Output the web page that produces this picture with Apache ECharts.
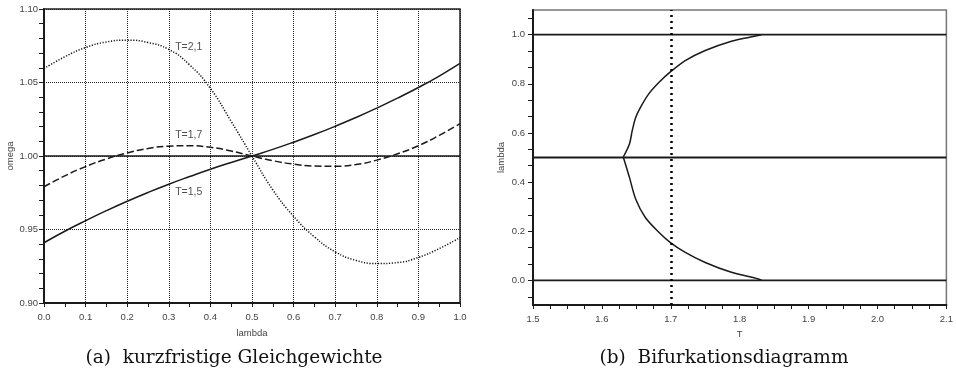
<!DOCTYPE html>
<html>
<head>
<meta charset="utf-8">
<script src="https://cdn.jsdelivr.net/npm/echarts@6/dist/echarts.min.js"></script>
<style>
  html, body { margin: 0; padding: 0; background: #fff; }
  #chart { width: 956px; height: 373px; }
</style>
</head>
<body>
<div id="chart"></div>
<script>
// (a) kurzfristige Gleichgewichte
const lambdas = [0, 0.05, 0.1, 0.15, 0.2, 0.25, 0.3, 0.35, 0.4, 0.45, 0.5,
  0.55, 0.6, 0.65, 0.7, 0.75, 0.8, 0.85, 0.9, 0.95, 1.0]
const omegaT15 = [0.941, 0.9488, 0.956, 0.9628, 0.9692, 0.9752, 0.9808, 0.986, 0.991, 0.9956, 1.0,
  1.0045, 1.0094, 1.0146, 1.0202, 1.0262, 1.0326, 1.0394, 1.0466, 1.0544, 1.063]
const omegaT17 = [0.979, 0.9865, 0.9928, 0.998, 1.0021, 1.0051, 1.0067, 1.007, 1.0059, 1.0034, 1.0,
  0.9968, 0.9945, 0.9932, 0.993, 0.9942, 0.9972, 1.0015, 1.007, 1.014, 1.022]
const omegaT21 = [1.0595, 1.0675, 1.0738, 1.0776, 1.0788, 1.0772, 1.0725, 1.062, 1.046, 1.0235, 1.0,
  0.977, 0.959, 0.945, 0.9348, 0.929, 0.9268, 0.9275, 0.931, 0.937, 0.9445]
const curveLabels = [
  { name: 'T=2,1', at: [0.348, 1.0741] },
  { name: 'T=1,7', at: [0.348, 1.0141] },
  { name: 'T=1,5', at: [0.348, 0.9751] },
]

// (b) Bifurkationsdiagramm
const upperT = [1.631, 1.640, 1.644, 1.649, 1.656, 1.668, 1.683, 1.699, 1.721, 1.750, 1.788, 1.827, 1.832]
const upperLambda = [0.502, 0.555, 0.609, 0.663, 0.704, 0.759, 0.806, 0.847, 0.894, 0.935, 0.973, 0.996, 1.0]
const lowerT = [1.631, 1.640, 1.649, 1.663, 1.683, 1.699, 1.721, 1.750, 1.788, 1.827, 1.832]
const lowerLambda = [0.502, 0.419, 0.331, 0.256, 0.195, 0.155, 0.114, 0.073, 0.033, 0.006, 0.0]
const flatLevels = [1.0, 0.5, 0.0]
const markT = 1.7
const rightYLabels = [0, 0.2, 0.4, 0.6, 0.8, 1.0]

const zip = (xs, ys) => xs.map((x, i) => [x, ys[i]])

// minor ticks of the right y axis: thirds of 0.2, one extra step beyond each end
const rightYTicks = []
for (let k = -1; k <= 16; k++) rightYTicks.push(+(k * 0.2 / 3).toFixed(4))

var chart = echarts.init(document.getElementById('chart'))

var labelFont = { color: '#444', fontSize: 9.5, fontFamily: 'Liberation Sans, Arial, sans-serif' }
var dark = '#1a1a1a'
var captionFont = '18.5px "DejaVu Serif", serif'

var option = {
  animation: false,
  grid: [
    { left: 44, top: 9, width: 416, height: 294, show: true, borderColor: '#222', borderWidth: 1.5, backgroundColor: 'transparent' },
    { left: 533, top: 10, width: 417, height: 295, show: true, borderColor: '#777', borderWidth: 1.5, backgroundColor: 'transparent' },
  ],
  xAxis: [
    {
      gridIndex: 0, type: 'value', min: 0, max: 1, interval: 0.1,
      name: 'lambda', nameLocation: 'middle', nameGap: 25,
      nameTextStyle: labelFont,
      axisLine: { onZero: false, lineStyle: { color: dark, width: 2 } },
      axisTick: { show: true, inside: false, length: 4, lineStyle: { color: dark } },
      minorTick: { show: true, splitNumber: 2, length: 4, lineStyle: { color: dark } },
      axisLabel: Object.assign({ margin: 9, formatter: (v) => v.toFixed(1) }, labelFont),
      splitLine: { show: true, lineStyle: { color: '#222', type: [1, 1], width: 1 } },
    },
    {
      gridIndex: 1, type: 'value', min: 1.5, max: 2.1, interval: 0.1,
      name: 'T', nameLocation: 'middle', nameGap: 22,
      nameTextStyle: labelFont,
      axisLine: { onZero: false, lineStyle: { color: dark, width: 2 } },
      axisTick: { show: true, inside: false, length: 4, lineStyle: { color: dark } },
      minorTick: { show: true, splitNumber: 4, length: 4, lineStyle: { color: dark } },
      axisLabel: Object.assign({ margin: 9, formatter: (v) => v.toFixed(1) }, labelFont),
      splitLine: { show: false },
    },
  ],
  yAxis: [
    {
      gridIndex: 0, type: 'value', min: 0.9, max: 1.1, interval: 0.05,
      name: 'omega', nameLocation: 'middle', nameGap: 26,
      nameTextStyle: labelFont,
      axisLine: { onZero: false, lineStyle: { color: dark, width: 2 } },
      axisTick: { show: true, inside: false, length: 5, lineStyle: { color: dark } },
      minorTick: { show: true, splitNumber: 5, length: 5, lineStyle: { color: dark } },
      axisLabel: Object.assign({ margin: 6, formatter: (v) => v.toFixed(2) }, labelFont),
      splitLine: { show: true, lineStyle: { color: '#222', type: [1, 1], width: 1 } },
    },
    {
      gridIndex: 1, type: 'value', min: -0.1, max: 1.1,
      name: 'lambda', nameLocation: 'middle', nameGap: 27,
      nameTextStyle: labelFont,
      axisLine: { onZero: false, lineStyle: { color: dark, width: 2 } },
      axisTick: { show: true, inside: false, length: 5, customValues: rightYTicks, lineStyle: { color: dark } },
      axisLabel: Object.assign({ margin: 8, customValues: rightYLabels, formatter: (v) => v.toFixed(1) }, labelFont),
      splitLine: { show: false },
    },
  ],
  graphic: [
    {
      type: 'text', x: 234, y: 358,
      style: { text: '(a)  kurzfristige Gleichgewichte', fill: '#111', font: captionFont, align: 'center', verticalAlign: 'middle' },
    },
    {
      type: 'text', x: 724, y: 358,
      style: { text: '(b)  Bifurkationsdiagramm', fill: '#111', font: captionFont, align: 'center', verticalAlign: 'middle' },
    },
  ],
  series: [
    // ---- left chart ----
    {
      type: 'line', xAxisIndex: 0, yAxisIndex: 0, symbol: 'none', z: 3,
      data: [[0, 1], [1, 1]],
      lineStyle: { color: dark, width: 1.5 },
    },
    {
      name: 'T=1,5', type: 'line', xAxisIndex: 0, yAxisIndex: 0, symbol: 'none', smooth: 0.5, z: 4,
      data: zip(lambdas, omegaT15),
      lineStyle: { color: dark, width: 1.5 },
    },
    {
      name: 'T=1,7', type: 'line', xAxisIndex: 0, yAxisIndex: 0, symbol: 'none', smooth: 0.5, z: 4,
      data: zip(lambdas, omegaT17),
      lineStyle: { color: dark, width: 1.5, type: [7, 3] },
    },
    {
      name: 'T=2,1', type: 'line', xAxisIndex: 0, yAxisIndex: 0, symbol: 'none', smooth: 0.5, z: 4,
      data: zip(lambdas, omegaT21),
      lineStyle: { color: '#111', width: 1.5, type: [1.2, 1.6] },
    },
    {
      type: 'scatter', xAxisIndex: 0, yAxisIndex: 0, symbolSize: 1, z: 5,
      itemStyle: { color: 'transparent' },
      data: curveLabels.map((c) => ({ value: c.at, name: c.name })),
      label: {
        show: true, position: 'inside', formatter: (p) => p.name,
        color: '#222', fontSize: 10.5, fontFamily: 'Liberation Sans, Arial, sans-serif',
      },
    },
    // ---- right chart ----
    ...flatLevels.map((lv) => ({
      type: 'line', xAxisIndex: 1, yAxisIndex: 1, symbol: 'none', z: 3,
      data: [[1.5, lv], [2.1, lv]],
      lineStyle: { color: dark, width: lv === 0.5 ? 1.8 : 1.6 },
    })),
    {
      type: 'line', xAxisIndex: 1, yAxisIndex: 1, symbol: 'none', smooth: 0.3, z: 4,
      data: zip(upperT, upperLambda),
      lineStyle: { color: dark, width: 1.5 },
      markLine: {
        silent: true, symbol: 'none', label: { show: false },
        lineStyle: { color: '#000', width: 2.5, type: [2, 4] },
        data: [{ xAxis: markT }],
      },
    },
    {
      type: 'line', xAxisIndex: 1, yAxisIndex: 1, symbol: 'none', smooth: 0.3, z: 4,
      data: zip(lowerT, lowerLambda),
      lineStyle: { color: dark, width: 1.5 },
    },
  ],
}

option && chart.setOption(option)
window.addEventListener('resize', function () {
  chart.resize()
})
</script>
</body>
</html>
